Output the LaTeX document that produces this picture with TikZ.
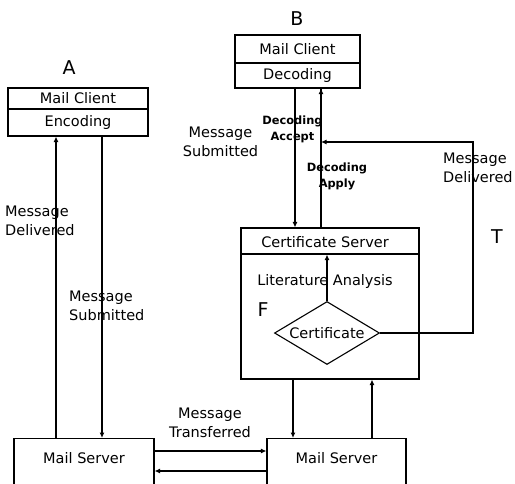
\documentclass[tikz,border=0pt]{standalone}
\usepackage{fontspec}
\setmainfont{DejaVu Sans}
\usetikzlibrary{arrows.meta,shapes.geometric}
\begin{document}
\begin{tikzpicture}[x=1pt,y=-1pt,
  box/.style={draw,line width=1.1pt,inner sep=0pt},
  txt/.style={font=\fontsize{14.5}{19.5}\selectfont,inner sep=0pt,align=center},
  small/.style={font=\fontsize{11.4}{16}\selectfont\bfseries,inner sep=0pt,align=center},
  big/.style={font=\fontsize{19}{22}\selectfont,inner sep=0pt},
  conn/.style={line width=1.1pt,-{Latex[length=5.5pt,width=5pt]}},
  plain/.style={line width=1.1pt}]
\useasboundingbox (0,0) rectangle (515,483);
% Client A
\node[box,minimum width=140pt,minimum height=21pt,txt] (clA1) at (78,98.5) {Mail Client};
\node[box,minimum width=140pt,minimum height=27pt,txt] (clA2) at (78,122.5) {Encoding};
\node[big] (lA) at (69,68) {A};
% Client B
\node[box,minimum width=125pt,minimum height=28pt,txt] (clB1) at (297.5,49) {Mail Client};
\node[box,minimum width=125pt,minimum height=25pt,txt] (clB2) at (297.5,75.5) {Decoding};
\node[big] (lB) at (297,19) {B};
% Certificate server
\node[box,minimum width=178pt,minimum height=26pt,txt] (certT) at (330,241) {};
\node[txt] (certTt) at (325,242) {Certificate Server};
\node[box,minimum width=178pt,minimum height=125pt] (certB) at (330,316.5) {};
\node[txt] (lit) at (325,281) {Literature Analysis};
\node[big] (lF) at (263,310) {F};
\node[draw,line width=1.1pt,diamond,minimum width=105pt,minimum height=63pt,inner sep=0pt,txt] (dia) at (327,333) {};
\node[txt] (diat) at (327,333) {Certificate};
\node[big] (lT) at (497,237) {T};
% Mail servers
\node[box,minimum width=140pt,minimum height=60pt,anchor=north] (msL) at (84,438) {};
\node[txt] (msLt) at (84,458) {Mail Server};
\node[box,minimum width=139pt,minimum height=60pt,anchor=north] (msR) at (336.5,438) {};
\node[txt] (msRt) at (336.5,458) {Mail Server};
% helper coordinates
\coordinate (cA1) at (56,0);
\coordinate (cA2) at (102,0);
\coordinate (cB1) at (295,0);
\coordinate (cB2) at (321,0);
\coordinate (cC1) at (293,0);
\coordinate (cC2) at (372,0);
\coordinate (hy1) at (0,451);
\coordinate (hy2) at (0,471);
\coordinate (jB) at (321,142);
\coordinate (rr) at (473,142);
% connectors A
\draw[conn] (msL.north -| cA1) -- (clA2.south -| cA1);
\draw[conn] (clA2.south -| cA2) -- (msL.north -| cA2);
% connectors B
\draw[conn] (clB2.south -| cB1) -- (certT.north -| cB1);
\draw[plain] (certT.north -| cB2) -- (clB2.south -| cB2);
\draw[conn] (jB) -- (clB2.south -| cB2);
\draw[conn] (dia.east) -| (rr) -- (jB);
\draw[conn] (dia.north) -- (dia.north |- certT.south);
% cert to server
\draw[conn] (certB.south -| cC1) -- (msR.north -| cC1);
\draw[conn] (msR.north -| cC2) -- (certB.south -| cC2);
% between servers
\draw[conn] (msL.east |- hy1) -- (msR.west |- hy1);
\draw[conn] (msR.west |- hy2) -- (msL.east |- hy2);
% labels
\node[txt,align=left,anchor=west] (lmd1) at (5,221) {Message\\Delivered};
\node[txt,align=left,anchor=west] (lms1) at (69,306) {Message\\Submitted};
\node[txt] (lms2) at (220.5,142) {Message\\Submitted};
\node[small] (lda) at (292.5,129) {Decoding\\Accept};
\node[small] (ldp) at (337,176) {Decoding\\Apply};
\node[txt,align=left,anchor=west] (lmd2) at (443,168) {Message\\Delivered};
\node[txt] (lmt) at (210,423) {Message\\Transferred};
\end{tikzpicture}
\end{document}
